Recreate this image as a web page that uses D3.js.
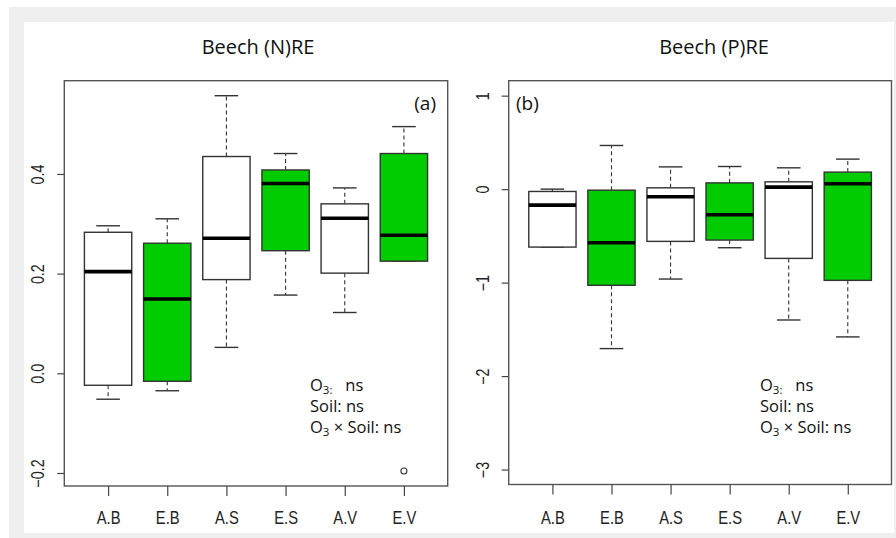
<!DOCTYPE html>
<html>
<head>
<meta charset="utf-8">
<script src="https://cdn.jsdelivr.net/npm/d3@7"></script>
<style>
html,body{margin:0;padding:0;background:#fff;}
svg{display:block;}
</style>
</head>
<body>
<svg id="chart" width="896" height="538"></svg>
<script>
// ---------- DATA ----------
const categories = ["A.B", "E.B", "A.S", "E.S", "A.V", "E.V"];

// Panel (a): Beech (N)RE
const nreLower  = [-0.052, -0.035, 0.052, 0.157, 0.122, 0.225];
const nreQ1     = [-0.024, -0.016, 0.188, 0.246, 0.201, 0.225];
const nreMedian = [0.204, 0.149, 0.271, 0.381, 0.311, 0.277];
const nreQ3     = [0.283, 0.261, 0.435, 0.408, 0.340, 0.441];
const nreUpper  = [0.296, 0.310, 0.557, 0.441, 0.372, 0.495];
const nreOutliers = [{cat: 6, value: -0.196}];
const nreTicks = [-0.2, 0.0, 0.2, 0.4];

// Panel (b): Beech (P)RE
const preLower  = [-0.620, -1.706, -0.962, -0.627, -1.400, -1.581];
const preQ1     = [-0.620, -1.029, -0.559, -0.545, -0.741, -0.976];
const preMedian = [-0.171, -0.573, -0.082, -0.274, 0.021, 0.057];
const preQ3     = [-0.025, -0.011, 0.014, 0.067, 0.078, 0.182];
const preUpper  = [0.000, 0.467, 0.238, 0.242, 0.228, 0.321];
const preOutliers = [];
const preTicks = [-3, -2, -1, 0, 1];
const preYlim = [-3, 1];

// ---------- STYLE / LAYOUT ----------
const GREEN = "#00CC00";
const LINE = "#333";
const svg = d3.select("#chart");

// background frame
svg.append("rect").attr("x", 9).attr("y", 7).attr("width", 887).attr("height", 531).attr("fill", "#efefef");
svg.append("rect").attr("x", 24).attr("y", 22).attr("width", 870).attr("height", 511).attr("fill", "#fff");

function panel(opt) {
  const {x0, x1, y0, y1, lower, q1, median, q3, upper, outliers, domain, ticks, fmt,
         title, titleX, tag, tagX, tagAnchor, noteX} = opt;
  const g = svg.append("g");
  const x = d3.scaleLinear().domain([0.26, categories.length + 0.74]).range([x0, x1]);
  const y = d3.scaleLinear().domain(domain).range([y1, y0]);

  const boxes = categories.map((c, i) => ({
    c, i: i + 1, lo: lower[i], q1: q1[i], med: median[i], q3: q3[i], hi: upper[i],
    fill: i % 2 === 1 ? GREEN : "#fff"
  }));
  const bw = (x(1.4) - x(0.6));
  const cw = bw / 2;

  const bg = g.selectAll("g.box").data(boxes).join("g").attr("class", "box");
  // whiskers (dashed)
  bg.append("line").attr("x1", d => x(d.i)).attr("x2", d => x(d.i))
    .attr("y1", d => y(d.q3)).attr("y2", d => y(d.hi))
    .attr("stroke", LINE).attr("stroke-width", 1.1).attr("stroke-dasharray", "4,3");
  bg.append("line").attr("x1", d => x(d.i)).attr("x2", d => x(d.i))
    .attr("y1", d => y(d.q1)).attr("y2", d => y(d.lo))
    .attr("stroke", LINE).attr("stroke-width", 1.1).attr("stroke-dasharray", "4,3");
  // caps
  bg.append("line").attr("x1", d => x(d.i) - cw / 2).attr("x2", d => x(d.i) + cw / 2)
    .attr("y1", d => y(d.hi)).attr("y2", d => y(d.hi))
    .attr("stroke", LINE).attr("stroke-width", 1.4);
  bg.append("line").attr("x1", d => x(d.i) - cw / 2).attr("x2", d => x(d.i) + cw / 2)
    .attr("y1", d => y(d.lo)).attr("y2", d => y(d.lo))
    .attr("stroke", LINE).attr("stroke-width", 1.4);
  // box
  bg.append("rect").attr("x", d => x(d.i) - bw / 2).attr("width", bw)
    .attr("y", d => y(d.q3)).attr("height", d => y(d.q1) - y(d.q3))
    .attr("fill", d => d.fill).attr("stroke", LINE).attr("stroke-width", 1.4);
  // median
  bg.append("line").attr("x1", d => x(d.i) - bw / 2).attr("x2", d => x(d.i) + bw / 2)
    .attr("y1", d => y(d.med)).attr("y2", d => y(d.med))
    .attr("stroke", "#000").attr("stroke-width", 3.6);
  // outliers
  g.selectAll("circle.out").data(outliers).join("circle").attr("class", "out")
    .attr("cx", d => x(d.cat)).attr("cy", d => y(d.value)).attr("r", 3)
    .attr("fill", "none").attr("stroke", LINE).attr("stroke-width", 1.1);

  // frame
  g.append("rect").attr("x", x0).attr("y", y0).attr("width", x1 - x0).attr("height", y1 - y0)
    .attr("fill", "none").attr("stroke", "#555").attr("stroke-width", 1.4);

  // y axis
  const ya = g.append("g").attr("transform", `translate(${x0},0)`)
    .call(d3.axisLeft(y).tickValues(ticks).tickSize(7).tickFormat(fmt));
  ya.select(".domain").remove();
  ya.selectAll(".tick line").attr("stroke", "#444").attr("stroke-width", 1.2);
  ya.selectAll(".tick text")
    .attr("x", null).attr("dy", null)
    .attr("text-anchor", "middle")
    .attr("transform", "translate(-20,0) rotate(-90) scale(0.82,1)")
    .attr("font-family", "Liberation Sans, Arial, sans-serif")
    .attr("font-size", 17.5).attr("fill", "#222");

  // x axis
  const xa = g.append("g").attr("transform", `translate(0,${y1})`)
    .call(d3.axisBottom(x).tickValues(d3.range(1, categories.length + 1)).tickSize(10)
      .tickFormat(d => categories[d - 1]));
  xa.select(".domain").remove();
  xa.selectAll(".tick line").attr("stroke", "#444").attr("stroke-width", 1.2);
  xa.selectAll(".tick text")
    .attr("y", null).attr("dy", null)
    .attr("text-anchor", "middle")
    .attr("transform", `translate(0,${523.5 - y1}) scale(0.82,1)`)
    .attr("font-family", "Liberation Sans, Arial, sans-serif")
    .attr("font-size", 18).attr("fill", "#222");

  // title
  g.append("text").attr("x", titleX).attr("y", 53.5).attr("text-anchor", "middle")
    .attr("font-family", "Open Sans, sans-serif").attr("font-size", 20).attr("fill", "#111")
    .text(title);
  // panel tag
  g.append("text").attr("x", tagX).attr("y", 110).attr("text-anchor", tagAnchor)
    .attr("font-family", "Open Sans, sans-serif").attr("font-size", 19).attr("fill", "#111")
    .text(tag);

  // significance note
  const nf = {family: "Open Sans, sans-serif", size: 16.5};
  const l1 = g.append("text").attr("x", noteX).attr("y", 390.7)
    .attr("font-family", nf.family).attr("font-size", nf.size).attr("fill", "#111");
  l1.append("tspan").text("O");
  l1.append("tspan").attr("font-size", 11.5).attr("dy", 3).text("3:");
  l1.append("tspan").attr("dy", -3).text("\u00a0\u00a0 ns");
  g.append("text").attr("x", noteX).attr("y", 412.3)
    .attr("font-family", nf.family).attr("font-size", nf.size).attr("fill", "#111")
    .text("Soil: ns");
  const l3 = g.append("text").attr("x", noteX).attr("y", 432.7)
    .attr("font-family", nf.family).attr("font-size", nf.size).attr("fill", "#111");
  l3.append("tspan").text("O");
  l3.append("tspan").attr("font-size", 11.5).attr("dy", 3).text("3");
  l3.append("tspan").attr("dy", -3).text(" \u00d7 Soil: ns");
}

// panel (a) domain: data range padded 4% (R style)
const nreMin = d3.min([...nreLower, ...nreOutliers.map(d => d.value)]);
const nreMax = d3.max([...nreUpper, ...nreOutliers.map(d => d.value)]);
const nrePad = (nreMax - nreMin) * 0.04;
const prePad = (preYlim[1] - preYlim[0]) * 0.04;

panel({
  x0: 64.3, x1: 447.7, y0: 80.7, y1: 486,
  lower: nreLower, q1: nreQ1, median: nreMedian, q3: nreQ3, upper: nreUpper,
  outliers: nreOutliers, domain: [nreMin - nrePad, nreMax + nrePad],
  ticks: nreTicks, fmt: d3.format(".1f"),
  title: "Beech (N)RE", titleX: 258, tag: "(a)", tagX: 436, tagAnchor: "end", noteX: 310
});

panel({
  x0: 508.7, x1: 891.5, y0: 80.7, y1: 484.5,
  lower: preLower, q1: preQ1, median: preMedian, q3: preQ3, upper: preUpper,
  outliers: preOutliers, domain: [preYlim[0] - prePad, preYlim[1] + prePad],
  ticks: preTicks, fmt: d3.format("d"),
  title: "Beech (P)RE", titleX: 714, tag: "(b)", tagX: 516, tagAnchor: "start", noteX: 760
});
</script>
</body>
</html>
